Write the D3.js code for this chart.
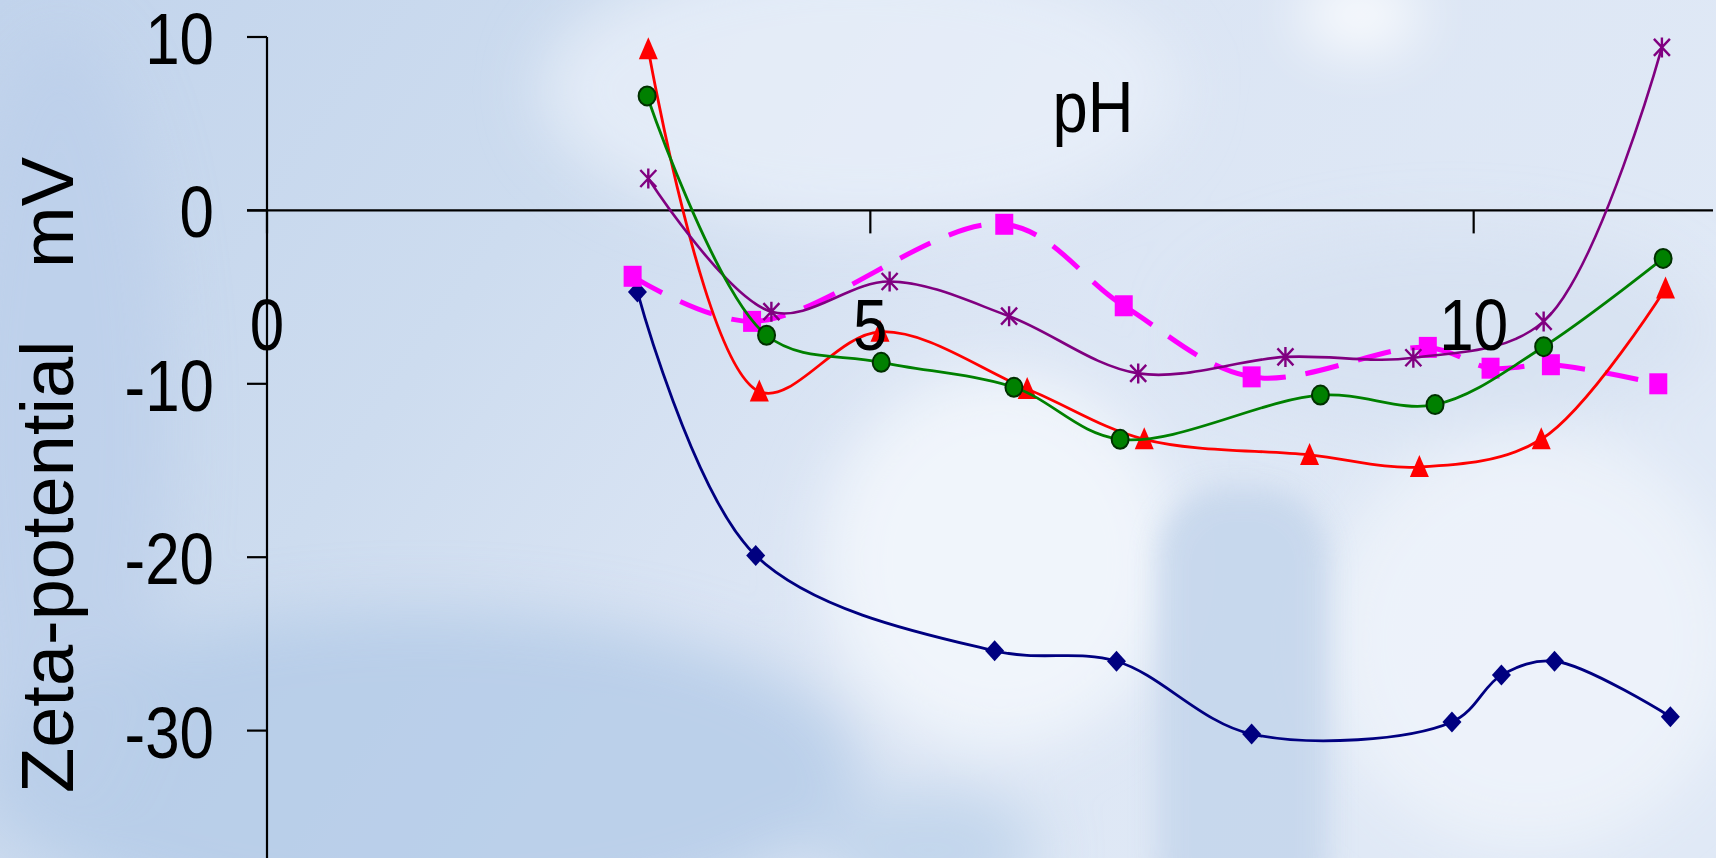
<!DOCTYPE html>
<html>
<head>
<meta charset="utf-8">
<script src="https://cdn.jsdelivr.net/npm/d3@7"></script>
<style>
  html, body { margin: 0; padding: 0; overflow: hidden; }
  svg { display: block; }
  text { font-family: "Liberation Sans", Arial, sans-serif; fill: #000; }
</style>
</head>
<body>
<svg id="chart" width="1716" height="858"></svg>
<script>
// pH / zeta values
const phBlue = [3.07, 4.05, 6.03, 7.04, 8.16, 9.82, 10.23, 10.67, 11.63]
const zetaBlue = [-4.7, -19.9, -25.4, -26.0, -30.2, -29.5, -26.8, -26.0, -29.2]

const phMagenta = [3.03, 4.02, 6.11, 7.10, 8.16, 9.62, 10.14, 10.64, 11.53]
const zetaMagenta = [-3.8, -6.4, -0.8, -5.5, -9.6, -7.9, -9.1, -8.9, -10.0]

const phRed = [3.16, 4.08, 5.08, 6.30, 7.27, 8.64, 9.55, 10.56, 11.59]
const zetaRed = [9.3, -10.45, -7.0, -10.3, -13.2, -14.1, -14.8, -13.2, -4.5]

const phPurple = [3.16, 4.18, 5.16, 6.15, 7.22, 8.44, 9.50, 10.58, 11.56]
const zetaPurple = [1.84, -5.84, -4.1, -6.1, -9.4, -8.45, -8.5, -6.4, 9.4]

const phGreen = [3.15, 4.14, 5.09, 6.19, 7.07, 8.73, 9.68, 10.58, 11.57]
const zetaGreen = [6.6, -7.2, -8.76, -10.2, -13.2, -10.65, -11.2, -7.86, -2.77]

const xTicks = [0, 5, 10]
const yTicks = [10, 0, -10, -20, -30]

let svg = d3.select('#chart')
let W = 1716, H = 858

let x = d3.scaleLinear().domain([0, 12]).range([267, 1715])
let y = d3.scaleLinear().domain([-40, 10]).range([904, 37])

// ---- background (slide picture) ----
let defs = svg.append('defs')
let bg = defs.append('linearGradient').attr('id', 'bgGrad')
    .attr('x1', 0).attr('y1', 0).attr('x2', 1).attr('y2', 0.35)
bg.append('stop').attr('offset', 0).attr('stop-color', '#c2d4ec')
bg.append('stop').attr('offset', 0.35).attr('stop-color', '#cddcef')
bg.append('stop').attr('offset', 0.6).attr('stop-color', '#dbe5f4')
bg.append('stop').attr('offset', 1).attr('stop-color', '#e0e9f6')

let blur = defs.append('filter').attr('id', 'soft')
    .attr('x', '-50%').attr('y', '-50%').attr('width', '200%').attr('height', '200%')
blur.append('feGaussianBlur').attr('stdDeviation', 30)
let blur2 = defs.append('filter').attr('id', 'softer')
    .attr('x', '-50%').attr('y', '-50%').attr('width', '200%').attr('height', '200%')
blur2.append('feGaussianBlur').attr('stdDeviation', 14)

svg.append('rect').attr('width', W).attr('height', H).attr('fill', 'url(#bgGrad)')

let blobs = svg.append('g').attr('filter', 'url(#soft)')
blobs.append('ellipse').attr('cx', 860).attr('cy', 90).attr('rx', 320).attr('ry', 140)
    .attr('fill', '#e8eff9').attr('opacity', 0.8)
blobs.append('ellipse').attr('cx', 1000).attr('cy', 560).attr('rx', 180).attr('ry', 190)
    .attr('fill', '#f2f6fc').attr('opacity', 0.9)
blobs.append('ellipse').attr('cx', 1530).attr('cy', 640).attr('rx', 210).attr('ry', 210)
    .attr('fill', '#eef3fa').attr('opacity', 0.85)
blobs.append('ellipse').attr('cx', 420).attr('cy', 770).attr('rx', 440).attr('ry', 160)
    .attr('fill', '#b3cae7').attr('opacity', 0.8)
blobs.append('ellipse').attr('cx', 60).attr('cy', 430).attr('rx', 110).attr('ry', 400)
    .attr('fill', '#bbcfea').attr('opacity', 0.7)
blobs.append('ellipse').attr('cx', 1360).attr('cy', 15).attr('rx', 60).attr('ry', 35)
    .attr('fill', '#ffffff').attr('opacity', 0.9)
blobs.append('ellipse').attr('cx', 1450).attr('cy', 330).attr('rx', 260).attr('ry', 100)
    .attr('fill', '#d3dff0').attr('opacity', 0.6)
blobs.append('ellipse').attr('cx', 930).attr('cy', 850).attr('rx', 110).attr('ry', 60)
    .attr('fill', '#bcd1ea').attr('opacity', 0.8)

svg.append('rect').attr('x', 1158).attr('y', 488).attr('width', 170).attr('height', 440)
    .attr('rx', 70).attr('fill', '#c4d5eb').attr('opacity', 0.85)
    .attr('filter', 'url(#softer)')

// ---- axes ----
let axes = svg.append('g').attr('stroke', '#000').attr('stroke-width', 2.2)
axes.append('line')
    .attr('x1', x(0)).attr('x2', x(0)).attr('y1', y(10)).attr('y2', H + 10)
axes.append('line')
    .attr('x1', x(0) - 20).attr('x2', x(12) - 2).attr('y1', y(0)).attr('y2', y(0))
axes.selectAll('.ytick').data(yTicks.concat([-40])).enter().append('line')
    .attr('x1', x(0) - 20).attr('x2', x(0))
    .attr('y1', d => y(d)).attr('y2', d => y(d))
axes.selectAll('.xtick').data(xTicks).enter().append('line')
    .attr('x1', d => x(d)).attr('x2', d => x(d))
    .attr('y1', y(0)).attr('y2', y(0) + 23)

// ---- series ----
let line = d3.line()
    .x(d => x(d[0]))
    .y(d => y(d[1]))
    .curve(d3.curveCatmullRom.alpha(0.5))

let zipPts = (ph, z) => ph.map((v, i) => [v, z[i]])

// dash pattern that restarts at every data point, like the original chart
let restartDash = (node, pts, dash, gap) => {
    let total = node.getTotalLength()
    let lens = [0]
    let s = 0
    for (let i = 1; i < pts.length; i++) {
        let px = x(pts[i][0]), py = y(pts[i][1])
        let best = Infinity, bestL = s
        for (let l = s; l <= total; l += 0.5) {
            let p = node.getPointAtLength(l)
            let d = Math.hypot(p.x - px, p.y - py)
            if (d < best) { best = d; bestL = l }
            if (best < 3 && d > best + 30) break
        }
        lens.push(bestL)
        s = bestL
    }
    lens[lens.length - 1] = total
    let arr = []
    for (let i = 1; i < lens.length; i++) {
        let rem = lens[i] - lens[i - 1]
        while (rem > 0) {
            let a = Math.min(dash, rem)
            arr.push(a); rem -= a
            if (rem <= 0) break
            let g = Math.min(gap, rem)
            arr.push(g); rem -= g
        }
        if (arr.length % 2 === 1) arr.push(0)
    }
    if (arr.length % 2 === 1) arr.push(0)
    return arr.join(',')
}

let series = [
    { ph: phBlue, z: zetaBlue, color: '#000080', width: 2.8, marker: 'diamond' },
    { ph: phMagenta, z: zetaMagenta, color: '#ff00ff', width: 5, marker: 'square', dashed: true },
    { ph: phRed, z: zetaRed, color: '#ff0000', width: 2.8, marker: 'triangle' },
    { ph: phPurple, z: zetaPurple, color: '#800080', width: 2.6, marker: 'star' },
    { ph: phGreen, z: zetaGreen, color: '#008000', width: 2.8, marker: 'circle' }
]

series.forEach(s => {
    let pts = zipPts(s.ph, s.z)
    let g = svg.append('g')
    let path = g.append('path')
        .attr('d', line(pts))
        .attr('fill', 'none')
        .attr('stroke', s.color)
        .attr('stroke-width', s.width)
        .attr('stroke-linejoin', 'round')
    if (s.dashed) {
        path.attr('stroke-dasharray', restartDash(path.node(), pts, 34, 20))
    }

    let m = g.selectAll('.mk').data(pts).enter().append('g')
        .attr('transform', d => `translate(${x(d[0])},${y(d[1])})`)
    if (s.marker === 'diamond') {
        m.append('path').attr('d', 'M0,-10.5L9.5,0L0,10.5L-9.5,0Z').attr('fill', s.color)
    } else if (s.marker === 'square') {
        m.append('rect').attr('x', -9).attr('y', -10.5).attr('width', 18).attr('height', 21)
            .attr('fill', s.color)
    } else if (s.marker === 'triangle') {
        m.append('path').attr('d', 'M0,-12L9.5,10L-9.5,10Z').attr('fill', s.color)
    } else if (s.marker === 'circle') {
        m.append('ellipse').attr('rx', 8.5).attr('ry', 9.5)
            .attr('fill', s.color).attr('stroke', '#003000').attr('stroke-width', 2)
    } else if (s.marker === 'star') {
        m.append('path').attr('d', 'M-8,-8.5L8,8.5M8,-8.5L-8,8.5M0,-10L0,10')
            .attr('stroke', s.color).attr('stroke-width', 2.4).attr('fill', 'none')
    }
})

// ---- text ----
let texts = svg.append('g').style('font-size', '72px')

texts.selectAll('.ylab').data(yTicks).enter().append('text')
    .attr('transform', d => `translate(214,${y(d) + 27}) scale(0.86,1)`)
    .attr('text-anchor', 'end')
    .text(d => d)

texts.selectAll('.xlab').data(xTicks).enter().append('text')
    .attr('transform', d => `translate(${x(d)},350) scale(0.86,1)`)
    .attr('text-anchor', 'middle')
    .text(d => d)

texts.append('text')
    .attr('transform', 'translate(1093,132) scale(0.88,1)')
    .attr('text-anchor', 'middle')
    .text('pH')

svg.append('text')
    .attr('transform', 'translate(73,793) rotate(-90)')
    .attr('text-anchor', 'start')
    .style('font-size', '74px')
    .text('Zeta-potential')

svg.append('text')
    .attr('transform', 'translate(73,157) rotate(-90)')
    .attr('text-anchor', 'end')
    .style('font-size', '74px')
    .text('mV')
</script>
</body>
</html>
